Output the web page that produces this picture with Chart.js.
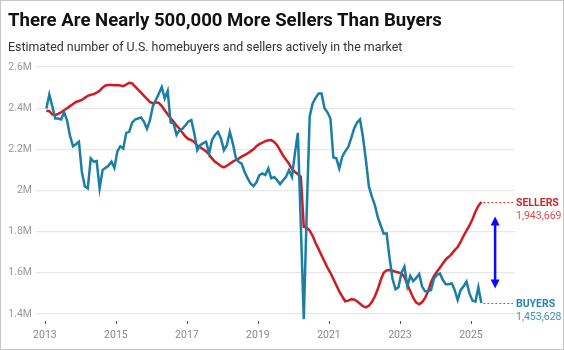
<!DOCTYPE html>
<html>
<head>
<meta charset="utf-8">
<script src="https://cdn.jsdelivr.net/npm/chart.js@4.4.1/dist/chart.umd.min.js"></script>
<style>
  html, body { margin: 0; padding: 0; background: #fff; }
  #card { position: relative; width: 564px; height: 350px; box-sizing: border-box; border: 1px solid #c6c6c6; font-family: Roboto, sans-serif; overflow: hidden; }
  #title { position: absolute; left: 7px; top: 8px; font-size: 18.6px; line-height: 22px; font-weight: 700; color: #111; white-space: nowrap; }
  #subtitle { position: absolute; left: 7px; top: 38px; font-size: 12.4px; line-height: 16px; color: #333; white-space: nowrap; }
  #wrap { position: absolute; left: 0; top: 0; width: 562px; height: 348px; }
</style>
</head>
<body>
<div id="card">
  <div id="wrap"><canvas id="lineChart"></canvas></div>
  <div id="title">There Are Nearly 500,000 More Sellers Than Buyers</div>
  <div id="subtitle">Estimated number of U.S. homebuyers and sellers actively in the market</div>
</div>
<script>
// monthly, Jan 2013 .. Apr 2025, millions
var startYear = 2013;

var buyers = [
  2.398, 2.466, 2.41, 2.35, 2.35, 2.345, 2.38, 2.34, 2.265, 2.215, 2.225, 2.237,
  2.09, 2.02, 2.01, 2.156, 2.14, 2.143, 2.01, 2.099, 2.11, 2.12, 2.14, 2.11,
  2.19, 2.215, 2.204, 2.28, 2.285, 2.33, 2.345, 2.35, 2.355, 2.334, 2.30, 2.34,
  2.41, 2.44, 2.47, 2.503, 2.447, 2.484, 2.33, 2.326, 2.27, 2.293, 2.30, 2.317,
  2.335, 2.342, 2.277, 2.196, 2.22, 2.23, 2.237, 2.18, 2.245, 2.27, 2.285, 2.253,
  2.196, 2.22, 2.285, 2.23, 2.16, 2.139, 2.131, 2.09, 2.06, 2.034, 2.021, 2.04,
  2.075, 2.083, 2.075, 2.107, 2.059, 2.066, 2.05, 2.031, 2.05, 2.066, 2.099, 2.066,
  2.18, 2.28, 1.83, 1.375, 1.90, 2.36, 2.423, 2.45, 2.471, 2.471, 2.40, 2.38,
  2.35, 2.16, 2.156, 2.107, 2.164, 2.19, 2.21, 2.253, 2.30, 2.33, 2.345, 2.26,
  2.147, 2.02, 1.97, 1.93, 1.87, 1.83, 1.79, 1.792, 1.67, 1.57, 1.52, 1.53,
  1.60, 1.63, 1.535, 1.585, 1.56, 1.575, 1.594, 1.533, 1.51, 1.51, 1.516, 1.573,
  1.59, 1.597, 1.565, 1.545, 1.545, 1.549, 1.516, 1.468, 1.516, 1.535, 1.557, 1.50,
  1.465, 1.46, 1.53, 1.453628
];

var sellers = [
  2.387, 2.385, 2.37, 2.366, 2.372, 2.38, 2.39, 2.40, 2.41, 2.42, 2.43, 2.435,
  2.44, 2.45, 2.46, 2.465, 2.468, 2.475, 2.485, 2.50, 2.51, 2.512, 2.513, 2.511,
  2.512, 2.51, 2.507, 2.515, 2.523, 2.52, 2.505, 2.49, 2.475, 2.46, 2.445, 2.43,
  2.423, 2.428, 2.426, 2.41, 2.39, 2.37, 2.35, 2.335, 2.315, 2.30, 2.28, 2.262,
  2.25, 2.245, 2.235, 2.218, 2.21, 2.20, 2.19, 2.175, 2.155, 2.14, 2.13, 2.118,
  2.112, 2.12, 2.13, 2.14, 2.147, 2.155, 2.165, 2.172, 2.18, 2.19, 2.20, 2.215,
  2.225, 2.232, 2.24, 2.244, 2.245, 2.236, 2.22, 2.195, 2.17, 2.15, 2.13, 2.105,
  2.09, 2.08, 2.066, 1.824, 1.82, 1.805, 1.78, 1.745, 1.715, 1.685, 1.655, 1.625,
  1.60, 1.57, 1.54, 1.51, 1.485, 1.462, 1.465, 1.472, 1.471, 1.462, 1.45, 1.438,
  1.432, 1.44, 1.458, 1.485, 1.52, 1.565, 1.60, 1.612, 1.614, 1.61, 1.605, 1.602,
  1.598, 1.58, 1.545, 1.51, 1.478, 1.455, 1.447, 1.458, 1.478, 1.51, 1.555, 1.585,
  1.605, 1.625, 1.645, 1.665, 1.678, 1.692, 1.71, 1.725, 1.75, 1.78, 1.805, 1.83,
  1.86, 1.897, 1.925, 1.943669
];

var yearTicks = [2013, 2015, 2017, 2019, 2021, 2023, 2025];
var yTicks = [1.4, 1.6, 1.8, 2.0, 2.2, 2.4, 2.6];
var yTickLabels = ["1.4M", "1.6M", "1.8M", "2M", "2.2M", "2.4M", "2.6M"];

var redColor = "#cf1b22";
var blueColor = "#1b7fa5";

// month index -> mid-month position in years
const toPoints = (arr) => arr.map((v, i) => ({ x: startYear + (i + 0.5) / 12, y: v }));

const fmt = (v) => Math.round(v * 1e6).toLocaleString("en-US");

const endLabels = {
  id: "endLabels",
  afterDatasetsDraw(chart) {
    var ctx = chart.ctx;
    var area = chart.chartArea;
    var xs = chart.scales.x, ys = chart.scales.y;
    var items = [
      { idx: 1, name: "SELLERS", color: "#d0262d", numColor: "#df4a4f", value: sellers[sellers.length - 1] },
      { idx: 0, name: "BUYERS", color: "#2585b0", numColor: "#3a92bc", value: buyers[buyers.length - 1] }
    ];
    var labelX = area.right + 1;
    ctx.save();
    items.forEach(function (it) {
      var pts = chart.getDatasetMeta(it.idx).data;
      var last = pts[pts.length - 1];
      ctx.strokeStyle = it.color;
      ctx.lineWidth = 1;
      ctx.setLineDash([2, 2]);
      ctx.beginPath();
      ctx.moveTo(last.x + 2, last.y + 0.5);
      ctx.lineTo(labelX - 3, last.y + 0.5);
      ctx.stroke();
      ctx.setLineDash([]);
      ctx.textAlign = "left";
      ctx.textBaseline = "middle";
      ctx.fillStyle = it.color;
      ctx.font = "bold 10.5px Roboto";
      ctx.fillText(it.name, labelX, last.y + 1.5);
      ctx.fillStyle = it.numColor;
      ctx.font = "10.5px Roboto";
      ctx.fillText(fmt(it.value), labelX, last.y + 14);
    });

    // double arrow between the two end values
    var gap = 0.07;
    var ax = xs.getPixelForValue(2025.68);
    var yTop = ys.getPixelForValue(sellers[sellers.length - 1] - gap);
    var yBot = ys.getPixelForValue(buyers[buyers.length - 1] + gap);
    var head = 9, half = 4.5;
    ctx.strokeStyle = "#0a0aff";
    ctx.fillStyle = "#0a0aff";
    ctx.lineWidth = 2.5;
    ctx.beginPath();
    ctx.moveTo(ax, yTop + head - 1);
    ctx.lineTo(ax, yBot - head + 1);
    ctx.stroke();
    ctx.beginPath();
    ctx.moveTo(ax, yTop);
    ctx.lineTo(ax - half, yTop + head);
    ctx.lineTo(ax + half, yTop + head);
    ctx.closePath();
    ctx.fill();
    ctx.beginPath();
    ctx.moveTo(ax, yBot);
    ctx.lineTo(ax - half, yBot - head);
    ctx.lineTo(ax + half, yBot - head);
    ctx.closePath();
    ctx.fill();

    // small year tick marks below the plot
    ctx.strokeStyle = "#555";
    ctx.lineWidth = 1;
    yearTicks.forEach(function (yr) {
      var px = Math.round(xs.getPixelForValue(yr)) + 0.5;
      ctx.beginPath();
      ctx.moveTo(px, area.bottom + 7);
      ctx.lineTo(px, area.bottom + 10);
      ctx.stroke();
    });
    ctx.restore();
  }
};

const linePlot = () => {
  var ctx = document.getElementById("lineChart").getContext("2d");

  new Chart(ctx, {
    type: "line",
    data: {
      datasets: [
        {
          label: "Buyers",
          data: toPoints(buyers),
          borderColor: blueColor,
          borderWidth: 2.5,
          pointRadius: 0,
          tension: 0,
          fill: false,
          clip: 8
        },
        {
          label: "Sellers",
          data: toPoints(sellers),
          borderColor: redColor,
          borderWidth: 2.5,
          pointRadius: 0,
          tension: 0,
          fill: false,
          clip: 8
        }
      ]
    },
    options: {
      responsive: true,
      maintainAspectRatio: false,
      animation: false,
      layout: { padding: { top: 66, right: 48, left: 0, bottom: 0 } },
      plugins: {
        legend: { display: false },
        title: { display: false },
        tooltip: { enabled: false }
      },
      scales: {
        x: {
          type: "linear",
          min: 2012.75,
          max: 2026.24,
          afterBuildTicks: (scale) => { scale.ticks = yearTicks.map(v => ({ value: v })); },
          afterFit: (scale) => { scale.height = 35; },
          grid: { display: false, drawTicks: false },
          border: { display: false },
          ticks: {
            color: "#888",
            font: { family: "Roboto", size: 10.5 },
            padding: 15,
            maxRotation: 0,
            callback: (v) => String(v)
          }
        },
        y: {
          min: 1.4,
          max: 2.6,
          afterBuildTicks: (scale) => { scale.ticks = yTicks.map(v => ({ value: v })); },
          afterFit: (scale) => { scale.width = 35; },
          grid: { color: "#e8e8e8", lineWidth: 1.3, drawTicks: false },
          border: { display: false },
          ticks: {
            color: "#999",
            font: { family: "Roboto", size: 10.5 },
            padding: 4,
            callback: (v) => yTickLabels[yTicks.indexOf(v)]
          }
        }
      }
    },
    plugins: [endLabels]
  });
};

linePlot();
</script>
</body>
</html>
